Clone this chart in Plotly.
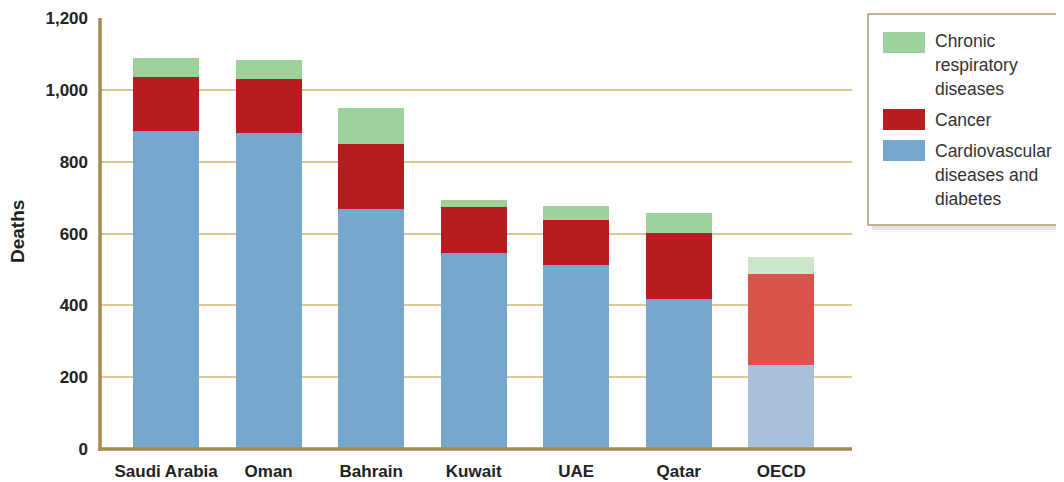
import plotly.graph_objs as go

# -- data
countries = ["Saudi Arabia", "Oman", "Bahrain", "Kuwait", "UAE", "Qatar", "OECD"]
cardio_diabetes = [886, 880, 668, 546, 513, 417, 234]
cancer = [151, 152, 182, 127, 124, 184, 254]
chronic_resp = [53, 52, 99, 22, 39, 58, 47]
y_ticks = [0, 200, 400, 600, 800, 1000, 1200]

legend_labels = [["Chronic", "respiratory", "diseases"],
                 ["Cancer"],
                 ["Cardiovascular", "diseases and", "diabetes"]]

# colours: GCC countries strong, OECD lighter
c_blue, c_blue_l = "#76a7cc", "#a9c0dd"
c_red, c_red_l = "#b71c20", "#d9534b"
c_green, c_green_l = "#9dd29a", "#cce6ca"
axis_col = "#a88a4e"
grid_col = "#dcc898"

# page offset (body margin) -> work in screen pixels, convert to figure space
OFF = 8
W, H = 1064, 482
plot_l, plot_r, plot_t, plot_b = 100, 852, 18, 449   # screen pixels
m_l = plot_l - OFF
m_r = W - (plot_r - OFF)
m_t = plot_t - OFF
m_b = H - (plot_b - OFF)
plot_w = plot_r - plot_l
plot_h = plot_b - plot_t


def py(pix):
    # screen row -> paper y
    return (plot_b - pix) / plot_h


def px(pix):
    # screen column -> paper x
    return (pix - plot_l) / plot_w


def shade(strong, light):
    return [light if c == "OECD" else strong for c in countries]


fig = go.Figure()
bar_w = 0.645
fig.add_trace(go.Bar(x=countries, y=cardio_diabetes, width=bar_w, name="Cardiovascular",
                     marker=dict(color=shade(c_blue, c_blue_l), line=dict(width=0))))
fig.add_trace(go.Bar(x=countries, y=cancer, width=bar_w, name="Cancer",
                     marker=dict(color=shade(c_red, c_red_l), line=dict(width=0))))
fig.add_trace(go.Bar(x=countries, y=chronic_resp, width=bar_w, name="Chronic",
                     marker=dict(color=shade(c_green, c_green_l), line=dict(width=0))))

font_axis = "Liberation Sans Narrow, Arial Narrow, Liberation Sans, Arial"

fig.update_layout(
    barmode="stack", showlegend=False,
    width=W, height=H, autosize=False,
    paper_bgcolor="white", plot_bgcolor="white",
    margin=dict(l=m_l, r=m_r, t=m_t, b=m_b, pad=0),
    xaxis=dict(range=[-0.645, 6.69], showgrid=False, zeroline=False,
               showline=False, ticks="", automargin=False, ticklabelstandoff=10,
               tickvals=countries, ticktext=["<b>%s</b>" % c for c in countries],
               tickfont=dict(family=font_axis, size=17, color="#222222")),
    yaxis=dict(range=[0, 1201], tickvals=y_ticks,
               ticktext=["<b>{:,}</b>".format(v) for v in y_ticks],
               showgrid=True, gridcolor=grid_col, gridwidth=1.8,
               zeroline=False, showline=False, ticks="", automargin=False,
               ticklabelstandoff=11, ticklabeloverflow="allow",
               tickfont=dict(family=font_axis, size=17, color="#222222")),
)

# legend box edges in paper units (right side runs off the page)
lx0, lx1, ly0, ly1 = px(868), px(1200), py(225), py(14)
border = "M {r},{t} L {l},{t} L {l},{b} L {r},{b}".format(l=lx0, r=lx1, t=ly1, b=ly0)

shapes = [
    # left and bottom gold axis lines
    dict(type="line", xref="paper", yref="paper", x0=0, x1=0, y0=-0.004, y1=1,
         line=dict(color=axis_col, width=3.5)),
    dict(type="line", xref="paper", yref="paper", x0=-0.002, x1=1, y0=0, y1=0,
         line=dict(color=axis_col, width=3.5)),
    # legend shadow, fill and border
    dict(type="rect", xref="paper", yref="paper", x0=px(872), x1=lx1, y0=py(230), y1=py(18),
         fillcolor="rgba(0,0,0,0.10)", line=dict(width=0), layer="below"),
    dict(type="rect", xref="paper", yref="paper", x0=lx0, x1=lx1, y0=ly0, y1=ly1,
         fillcolor="white", line=dict(width=0)),
    dict(type="path", xref="paper", yref="paper", path=border,
         line=dict(color="#b29b6c", width=1.5)),
]

# legend swatches (top to bottom) and text lines
sw_rows = [(32, 53), (109, 130), (140, 161)]
sw_cols = [c_green, c_red, c_blue]
for (t, b), col in zip(sw_rows, sw_cols):
    shapes.append(dict(type="rect", xref="paper", yref="paper", x0=px(883), x1=px(925),
                       y0=py(b), y1=py(t), fillcolor=col, line=dict(width=0)))

annotations = [
    # y axis title
    dict(xref="paper", yref="paper", x=px(18), y=py(232), xanchor="center", yanchor="middle",
         showarrow=False, textangle=-90, text="<b>Deaths</b>",
         font=dict(family="Liberation Sans, Arial", size=19, color="#222222")),
]
line_rows = [[41, 65, 89], [120], [151, 175, 199]]
for lines, rows in zip(legend_labels, line_rows):
    for txt, r in zip(lines, rows):
        annotations.append(dict(xref="paper", yref="paper", x=px(933), y=py(r),
                                xanchor="left", yanchor="middle", showarrow=False,
                                text=txt, font=dict(family="Liberation Sans, Arial",
                                                    size=17.5, color="#333333")))

fig.update_layout(shapes=shapes, annotations=annotations)

fig.write_html("out.html")
